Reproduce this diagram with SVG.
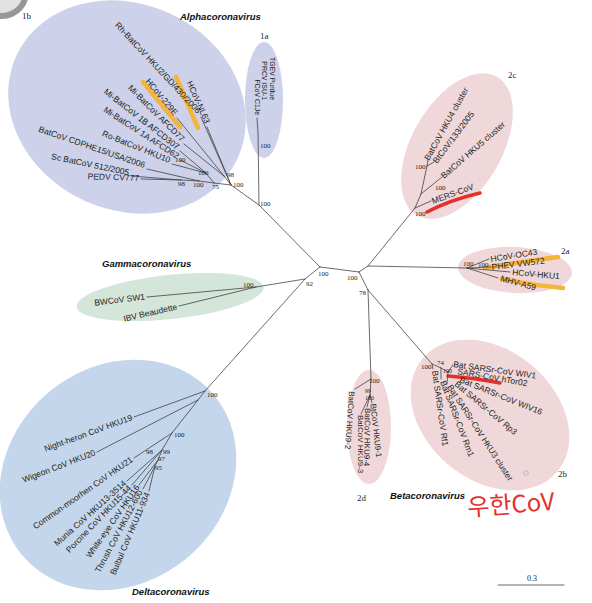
<svg xmlns="http://www.w3.org/2000/svg" width="592" height="603" viewBox="0 0 592 603">
<style>
.br{stroke:#3a3a3a;stroke-width:0.75;fill:none;stroke-linecap:round}
.lf{font-family:"Liberation Sans",Arial,sans-serif;font-size:8.5px;fill:#231f20}
.lf1a{font-family:"Liberation Sans",Arial,sans-serif;font-size:6.9px;fill:#231f20}
.lf2d{font-family:"Liberation Sans",Arial,sans-serif;font-size:8px;fill:#231f20}
.bs{font-family:"Liberation Serif","Times New Roman",serif;font-size:7px;fill:#231f20}
.ttl{font-family:"Liberation Sans",Arial,sans-serif;font-weight:bold;font-style:italic;font-size:9.5px;fill:#111}
.cl{font-family:"Liberation Serif","Times New Roman",serif;font-size:9px;fill:#231f20}
.hy{stroke:#f5b43a;stroke-width:4.5;stroke-linecap:round;fill:none}
.hr{stroke:#e4302a;stroke-width:3.5;stroke-linecap:round;fill:none}
.alpha{fill:#cdd1ea}
.beta{fill:#f0d7da}
.gamma{fill:#d4e6d9}
.delta{fill:#c4d6ec}
</style>

<!-- corner decoration -->
<circle cx="2" cy="-8" r="24" fill="#e2e2e2" stroke="#979797" stroke-width="6"/>

<!-- clusters -->
<g id="cluster-1b">
  <ellipse class="alpha" cx="127" cy="107" rx="122" ry="103" transform="rotate(25 127 107)"/>
  <text class="cl" x="22" y="19">1b</text>
</g>
<g id="cluster-1a">
  <ellipse class="alpha" cx="264" cy="100" rx="19" ry="58"/>
  <text class="cl" x="260" y="39">1a</text>
</g>
<g id="cluster-2c">
  <ellipse class="beta" cx="457" cy="146" rx="80" ry="45" transform="rotate(-60 457 146)"/>
  <text class="cl" x="508" y="78">2c</text>
</g>
<g id="cluster-2a">
  <ellipse class="beta" cx="515" cy="270" rx="57" ry="23" transform="rotate(3 515 270)"/>
  <text class="cl" x="561" y="254">2a</text>
</g>
<g id="cluster-gamma">
  <ellipse class="gamma" cx="170" cy="297" rx="94" ry="22" transform="rotate(-6 170 297)"/>
  <text class="ttl" x="102" y="267">Gammacoronavirus</text>
</g>
<g id="cluster-delta">
  <ellipse class="delta" cx="118" cy="475" rx="125" ry="108" transform="rotate(-40 118 475)"/>
  <text class="ttl" x="132" y="595">Deltacoronavirus</text>
</g>
<g id="cluster-2b">
  <ellipse class="beta" cx="490" cy="415" rx="88" ry="65" transform="rotate(40 490 415)"/>
  <circle cx="526" cy="473" r="2.3" fill="none" stroke="#b0b0b0" stroke-width="0.8"/>
  <text class="cl" x="558" y="477">2b</text>
</g>
<g id="cluster-2d">
  <ellipse class="beta" cx="369" cy="427" rx="22" ry="57"/>
  <text class="cl" x="357" y="501">2d</text>
</g>
<text class="ttl" x="180" y="20">Alphacoronavirus</text>
<text class="ttl" x="390" y="499">Betacoronavirus</text>

<!-- highlights -->
<g id="highlights">
  <path class="hy" d="M143,82 L180,127"/>
  <path class="hy" d="M176,77 L198,128"/>
  <path class="hy" d="M485,268 Q520,262 558,257"/>
  <path class="hy" d="M502,279 Q532,285 563,288"/>
  <path class="hr" d="M427,212 Q450,200 480,193"/>
  <path class="hr" d="M448,376 Q475,378 500,383"/>
</g>

<!-- connectors -->
<g id="branches" class="br">
  <path d="M320,267 L305,279 M320,267 L359,272 M359,272 L368,266 M359,272 L368,290"/>
  <!-- alpha -->
  <path d="M320,267 L259,205 L231,185 M259,205 L258,132 L257,118"/>
  <path d="M231,185 L201,117 M231,185 L207,127 M231,185 L224,176 M224,176 L177,118 M224,176 L184,144"/>
  <path d="M231,185 L214,183 M214,183 L206,173 M206,173 L180,151 M206,173 L180,160 M206,173 L172,164"/>
  <path d="M214,183 L199,181 M199,181 L147,169 M199,181 L181,180 M181,180 L131,176 M181,180 L141,179"/>
  <!-- gamma -->
  <path d="M305,279 L256,287 M256,287 L147,297 M256,287 L179,306"/>
  <!-- delta -->
  <path d="M305,279 L205,391 M205,391 L134,417 M205,391 L198,400 M198,400 L97,452 M198,400 L172,433 M172,433 L134,458"/>
  <path d="M172,433 L162,450 M162,450 L127,481 M162,450 L132,485 M162,450 L158,460 M158,460 L139,485 M158,460 L155,466 M155,466 L143,489 M155,466 L149,491"/>
  <!-- 2a -->
  <path d="M368,266 L467,268 M467,268 L489,259 M467,268 L491,267 M467,268 L510,272 M467,268 L498,278"/>
  <!-- 2c -->
  <path d="M368,266 L415,208 M415,208 L431,201 M415,208 L421,194 M421,194 L442,177 M421,194 L427,166 M427,166 L428,160 M427,166 L434,162"/>
  <!-- 2b -->
  <path d="M368,290 L432,364 M432,364 L433,369 M432,364 L441,368 M441,368 L441,379 M441,368 L448,372 M448,372 L447,384 M448,372 L453,365"/>
  <!-- 2d -->
  <path d="M368,290 L371,379 M371,379 L355,389 M371,379 L370,395 M370,395 L372,403 M370,395 L367,407 M370,395 L361,414"/>
  <!-- scale bar -->
  <path d="M498,585 L564,585"/>
</g>

<!-- bootstrap values -->
<g id="support">
  <text class="bs" x="175" y="162">100</text>
  <text class="bs" x="198" y="175">100</text>
  <text class="bs" x="227" y="177">98</text>
  <text class="bs" x="233" y="187">100</text>
  <text class="bs" x="212" y="189">75</text>
  <text class="bs" x="193" y="187">100</text>
  <text class="bs" x="178" y="186">98</text>
  <text class="bs" x="260" y="148">100</text>
  <text class="bs" x="260" y="206">100</text>
  <text class="bs" x="318" y="276">100</text>
  <text class="bs" x="347" y="280">100</text>
  <text class="bs" x="306" y="286">92</text>
  <text class="bs" x="359" y="295">78</text>
  <text class="bs" x="243" y="287">100</text>
  <text class="bs" x="207" y="397">100</text>
  <text class="bs" x="174" y="437">100</text>
  <text class="bs" x="163" y="454">99</text>
  <text class="bs" x="146" y="454">98</text>
  <text class="bs" x="158" y="461">97</text>
  <text class="bs" x="155" y="470">95</text>
  <text class="bs" x="415" y="169">100</text>
  <text class="bs" x="435" y="190">100</text>
  <text class="bs" x="415" y="216">100</text>
  <text class="bs" x="463" y="266">100</text>
  <text class="bs" x="478" y="267">100</text>
  <text class="bs" x="421" y="369">100</text>
  <text class="bs" x="437" y="365">74</text>
  <text class="bs" x="443" y="373" style="font-size:6px">100</text>
  <text class="bs" x="369" y="383">100</text>
  <text class="bs" x="365" y="392.5" style="font-size:6px">99</text>
  <text class="bs" x="365" y="400" style="font-size:6px">100</text>
</g>

<!-- leaves: alpha 1b -->
<g id="rh-batcov-hku2"><text class="lf" text-anchor="end" transform="translate(197,114) rotate(47)">Rh-BatCoV HKU2/GD/430/2006</text></g>
<g id="hcov-nl63"><text class="lf" text-anchor="end" transform="translate(205,124) rotate(66)">HCoV-NL63</text></g>
<g id="hcov-229e"><text class="lf" text-anchor="end" transform="translate(174,116) rotate(50)">HCoV-229E</text></g>
<g id="mi-batcov-afcd77"><text class="lf" text-anchor="end" transform="translate(181,142) rotate(45)">Mi-BatCoV AFCD77</text></g>
<g id="mi-batcov-1b"><text class="lf" text-anchor="end" transform="translate(176.5,150) rotate(38)">Mi-BatCoV 1B AFCD307</text></g>
<g id="mi-batcov-1a"><text class="lf" text-anchor="end" transform="translate(176.6,159) rotate(33)">Mi-BatCoV 1A AFCD62</text></g>
<g id="ro-batcov-hku10"><text class="lf" text-anchor="end" transform="translate(169,163) rotate(22)">Ro-BatCoV HKU10</text></g>
<g id="batcov-cdphe15"><text class="lf" text-anchor="end" transform="translate(144,168) rotate(19)">BatCoV CDPHE15/USA/2006</text></g>
<g id="sc-batcov-512"><text class="lf" text-anchor="end" transform="translate(128.5,175.5) rotate(12)">Sc BatCoV 512/2005</text></g>
<g id="pedv-cv777"><text class="lf" text-anchor="end" transform="translate(139,181) rotate(2)">PEDV CV777</text></g>

<!-- leaves: alpha 1a -->
<g id="tgev-purdue"><text class="lf1a" text-anchor="end" transform="translate(270,100) rotate(90)">TGEV Purdue</text></g>
<g id="prcv-isu-1"><text class="lf1a" text-anchor="end" transform="translate(262,100) rotate(90)">PRCV ISU-1</text></g>
<g id="fcov-c1je"><text class="lf1a" text-anchor="end" transform="translate(254.5,115) rotate(90)">FCoV C1Je</text></g>

<!-- leaves: 2c -->
<g id="batcov-hku4"><text class="lf" transform="translate(429,161) rotate(-61)">BatCoV HKU4 cluster</text></g>
<g id="btcov-133"><text class="lf" transform="translate(437,164) rotate(-53)">BtCoV/133/2005</text></g>
<g id="batcov-hku5"><text class="lf" transform="translate(444,179) rotate(-41)">BatCoV HKU5 cluster</text></g>
<g id="mers-cov"><text class="lf" transform="translate(433,204) rotate(-20)">MERS-CoV</text></g>

<!-- leaves: 2a -->
<g id="hcov-oc43"><text class="lf" transform="translate(491,262) rotate(-9)">HCoV-OC43</text></g>
<g id="phev-vw572"><text class="lf" transform="translate(492,270) rotate(-7)">PHEV VW572</text></g>
<g id="hcov-hku1"><text class="lf" transform="translate(512,275) rotate(5)">HCoV-HKU1</text></g>
<g id="mhv-a59"><text class="lf" transform="translate(500,281) rotate(15)">MHV-A59</text></g>

<!-- leaves: gamma -->
<g id="bwcov-sw1"><text class="lf" text-anchor="end" transform="translate(145.3,299.5) rotate(-7)">BWCoV SW1</text></g>
<g id="ibv-beaudette"><text class="lf" text-anchor="end" transform="translate(177.6,309.4) rotate(-13)">IBV Beaudette</text></g>

<!-- leaves: delta -->
<g id="night-heron"><text class="lf" text-anchor="end" transform="translate(133,420) rotate(-20)">Night-heron CoV HKU19</text></g>
<g id="wigeon"><text class="lf" text-anchor="end" transform="translate(96,455) rotate(-21)">Wigeon CoV HKU20</text></g>
<g id="common-moorhen"><text class="lf" text-anchor="end" transform="translate(133.4,461) rotate(-35)">Common-moorhen CoV HKU21</text></g>
<g id="munia"><text class="lf" text-anchor="end" transform="translate(126.7,484) rotate(-42)">Munia CoV HKU13-3514</text></g>
<g id="porcine"><text class="lf" text-anchor="end" transform="translate(131.8,488.7) rotate(-46)">Porcine CoV HKU15-44</text></g>
<g id="white-eye"><text class="lf" text-anchor="end" transform="translate(140,487.4) rotate(-55)">White-eye CoV HKU16</text></g>
<g id="thrush"><text class="lf" text-anchor="end" transform="translate(143,492) rotate(-62)">Thrush CoV HKU12-600</text></g>
<g id="bulbul"><text class="lf" text-anchor="end" transform="translate(150,494) rotate(-67)">Bulbul CoV HKU11-934</text></g>

<!-- leaves: 2b -->
<g id="wiv1"><text class="lf" transform="translate(453,367) rotate(8)">Bat SARSr-CoV WIV1</text></g>
<g id="htor02"><text class="lf" transform="translate(457,374) rotate(10)">SARS-CoV hTor02</text></g>
<g id="wiv16"><text class="lf" transform="translate(459,382) rotate(22)">Bat SARSr-CoV WIV16</text></g>
<g id="rp3"><text class="lf" transform="translate(454,385) rotate(40)">Bat SARSr-CoV Rp3</text></g>
<g id="hku3"><text class="lf" transform="translate(447,387) rotate(57)">Bat SARSr-CoV HKU3 cluster</text></g>
<g id="rm1"><text class="lf" transform="translate(440,382) rotate(69)">Bat SARSr-CoV Rm1</text></g>
<g id="rf1"><text class="lf" transform="translate(432,371) rotate(82)">Bat SARSr-CoV Rf1</text></g>

<!-- leaves: 2d -->
<g id="hku9-1"><text class="lf2d" transform="translate(370.5,404) rotate(84)">BtCoV HKU9-1</text></g>
<g id="hku9-4"><text class="lf2d" transform="translate(365,408) rotate(91)">BatCoV HKU9-4</text></g>
<g id="hku9-3"><text class="lf2d" transform="translate(358,415) rotate(90)">BatCoV HKU9-3</text></g>
<g id="hku9-2"><text class="lf2d" transform="translate(349,391) rotate(94)">BatCoV HKU9-2</text></g>

<!-- handwriting and scale -->
<g id="wuhan-note"><text x="468" y="516" font-family="'Noto Sans CJK KR','Noto Sans',sans-serif" font-size="24" fill="#e4302a" transform="rotate(-4 468 516)">우한CoV</text></g>
<g id="scale"><text class="bs" x="532" y="581" text-anchor="middle" style="font-size:8px">0.3</text></g>
</svg>
